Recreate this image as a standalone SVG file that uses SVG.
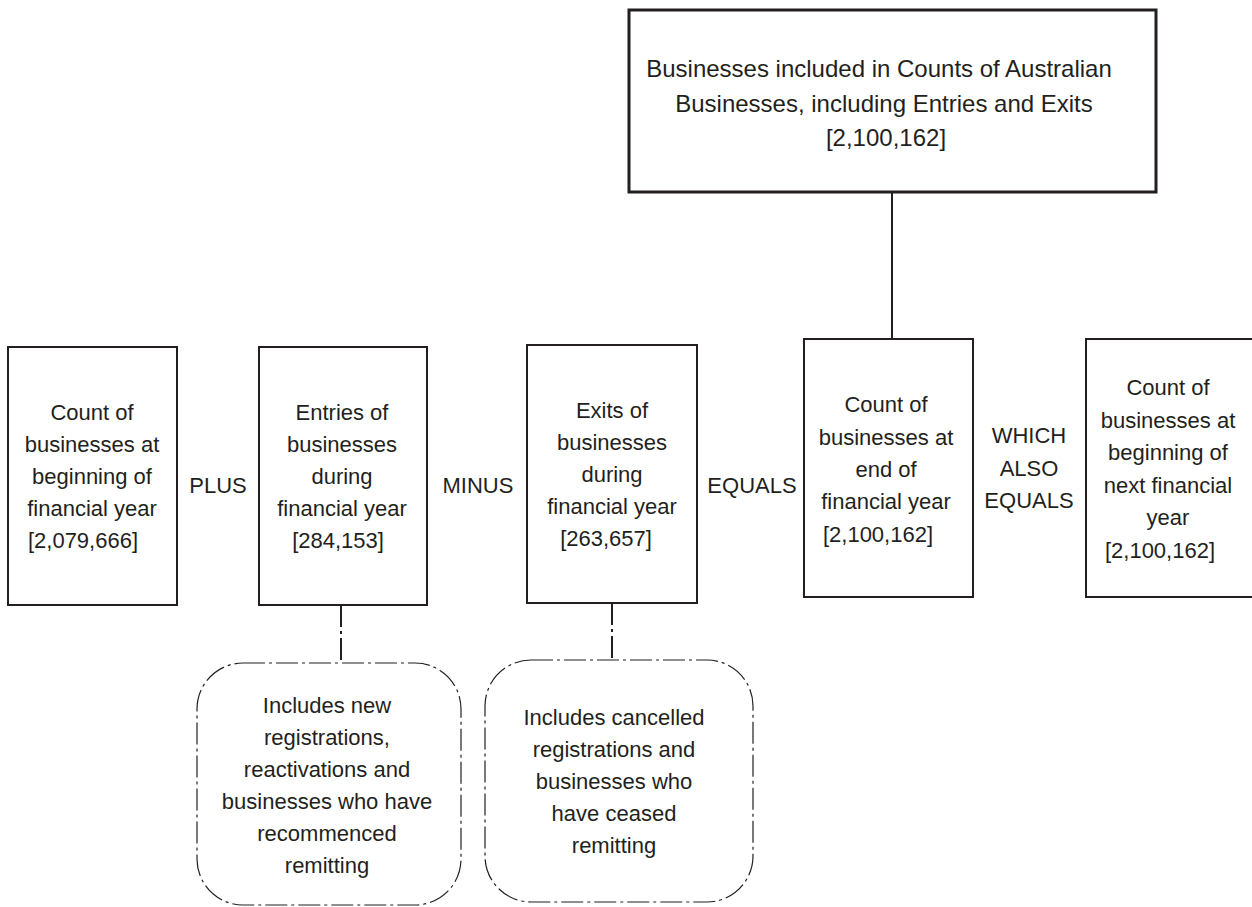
<svg xmlns="http://www.w3.org/2000/svg" width="1252" height="907" viewBox="0 0 1252 907">
<style>
  .box { fill: #ffffff; stroke: #231f20; stroke-width: 2; }
  .top { fill: #ffffff; stroke: #231f20; stroke-width: 3; }
  .note { fill: #ffffff; stroke: #231f20; stroke-width: 1.2; stroke-dasharray: 22 4 3 4; }
  .solid { stroke: #231f20; stroke-width: 2; fill: none; }
  .dash { stroke: #231f20; stroke-width: 2; fill: none; stroke-dasharray: 22 4 3 4; }
  text { font-family: "Liberation Sans", Arial, sans-serif; font-size: 22px; fill: #231f20; text-anchor: middle; }
  .big { font-size: 24px; }
</style>
<rect width="1252" height="907" fill="#ffffff"/>
<g id="connectors">
  <line class="solid" x1="892" y1="192" x2="892" y2="339"/>
  <line class="dash" x1="341" y1="605" x2="341" y2="663"/>
  <line class="dash" x1="612" y1="603" x2="612" y2="660"/>
</g>
<g id="node-total">
  <rect class="top" x="629" y="10" width="527" height="182"/>
  <text class="big" x="879" y="77">Businesses included in Counts of Australian</text>
  <text class="big" x="884" y="112">Businesses, including Entries and Exits</text>
  <text class="big" x="886" y="146">[2,100,162]</text>
</g>
<g id="node-begin">
  <rect class="box" x="8" y="347" width="169" height="258"/>
  <text x="92" y="420">Count of</text>
  <text x="92" y="452">businesses at</text>
  <text x="92" y="484">beginning of</text>
  <text x="92" y="516">financial year</text>
  <text x="83" y="548">[2,079,666]</text>
</g>
<g id="op-plus"><text x="218" y="493">PLUS</text></g>
<g id="node-entries">
  <rect class="box" x="259" y="347" width="168" height="258"/>
  <text x="342" y="420">Entries of</text>
  <text x="342" y="452">businesses</text>
  <text x="342" y="484">during</text>
  <text x="342" y="516">financial year</text>
  <text x="338" y="548">[284,153]</text>
</g>
<g id="op-minus"><text x="478" y="493">MINUS</text></g>
<g id="node-exits">
  <rect class="box" x="527" y="345" width="170" height="258"/>
  <text x="612" y="418">Exits of</text>
  <text x="612" y="450">businesses</text>
  <text x="612" y="482">during</text>
  <text x="612" y="514">financial year</text>
  <text x="606" y="546">[263,657]</text>
</g>
<g id="op-equals"><text x="752" y="493">EQUALS</text></g>
<g id="node-end">
  <rect class="box" x="804" y="339" width="169" height="258"/>
  <text x="886" y="412">Count of</text>
  <text x="886" y="445">businesses at</text>
  <text x="886" y="477">end of</text>
  <text x="886" y="509">financial year</text>
  <text x="878" y="542">[2,100,162]</text>
</g>
<g id="op-which"><text x="1029" y="443">WHICH</text><text x="1029" y="476">ALSO</text><text x="1029" y="508">EQUALS</text></g>
<g id="node-next">
  <rect class="box" x="1086" y="339" width="170" height="258"/>
  <text x="1168" y="395">Count of</text>
  <text x="1168" y="428">businesses at</text>
  <text x="1168" y="460">beginning of</text>
  <text x="1168" y="493">next financial</text>
  <text x="1168" y="525">year</text>
  <text x="1160" y="558">[2,100,162]</text>
</g>
<g id="note-entries">
  <rect class="note" x="197" y="663" width="264" height="242" rx="46" ry="46"/>
  <text x="327" y="713">Includes new</text>
  <text x="327" y="745">registrations,</text>
  <text x="327" y="777">reactivations and</text>
  <text x="327" y="809">businesses who have</text>
  <text x="327" y="841">recommenced</text>
  <text x="327" y="873">remitting</text>
</g>
<g id="note-exits">
  <rect class="note" x="485" y="660" width="268" height="242" rx="46" ry="46"/>
  <text x="614" y="725">Includes cancelled</text>
  <text x="614" y="757">registrations and</text>
  <text x="614" y="789">businesses who</text>
  <text x="614" y="821">have ceased</text>
  <text x="614" y="853">remitting</text>
</g>
</svg>
